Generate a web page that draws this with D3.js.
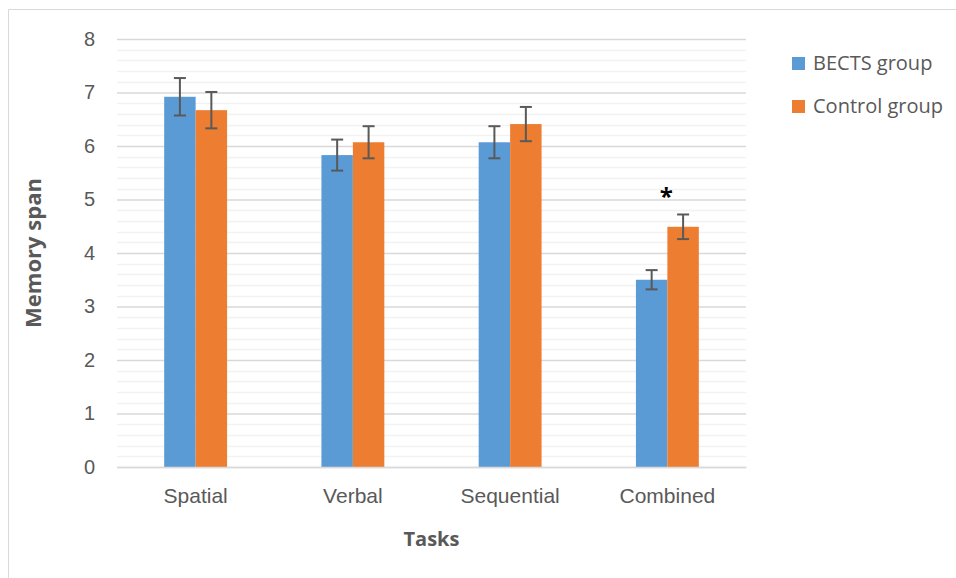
<!DOCTYPE html>
<html>
<head>
<meta charset="utf-8">
<script src="https://cdn.jsdelivr.net/npm/d3@7"></script>
<style>
  html, body { margin: 0; padding: 0; background: #fff; }
  svg { display: block; font-family: "Open Sans", "Liberation Sans", sans-serif; }
</style>
</head>
<body>
<svg id="chart" width="956" height="578"></svg>
<script>
// Memory span by task, two groups, with error bars
const tasks = ["Spatial", "Verbal", "Sequential", "Combined"];
const groups = ["BECTS group", "Control group"];
const bectsMeans = [6.92, 5.83, 6.07, 3.50];
const bectsErr = [0.35, 0.29, 0.30, 0.18];
const controlMeans = [6.67, 6.07, 6.41, 4.49];
const controlErr = [0.34, 0.30, 0.32, 0.23];
const yTicks = [0, 1, 2, 3, 4, 5, 6, 7, 8];
const significant = ["Combined"];
const colors = ["#5b9bd5", "#ed7d31"];

const svg = d3.select("#chart");
const W = 956, H = 578;
const plot = { left: 117, right: 746, top: 39, bottom: 467 };

// chart frame (top and left edges visible)
svg.append("path")
  .attr("d", `M8.5,${H} V9.5 H${W}`)
  .attr("fill", "none").attr("stroke", "#d9d9d9").attr("stroke-width", 1);

const x = d3.scaleBand().domain(tasks).range([plot.left, plot.right]).paddingInner(0).paddingOuter(0);
const y = d3.scaleLinear().domain([0, 8]).range([plot.bottom, plot.top]);
const barW = x.bandwidth() * 0.2;
const x1 = d3.scaleBand().domain(groups).range([0, barW * 2]);

// minor gridlines
const minor = d3.range(0, 8.0001, 0.2).filter(v => Math.abs(v - Math.round(v)) > 1e-6);
svg.append("g").selectAll("line").data(minor).join("line")
  .attr("x1", plot.left).attr("x2", plot.right)
  .attr("y1", d => Math.round(y(d)) + 0.5).attr("y2", d => Math.round(y(d)) + 0.5)
  .attr("stroke", "#f2f2f2").attr("stroke-width", 1.3);

// major gridlines and y labels via axis
const yAxis = d3.axisLeft(y).tickValues(yTicks).tickSize(-(plot.right - plot.left)).tickPadding(22).tickFormat(d3.format("d"));
const gy = svg.append("g").attr("transform", `translate(${plot.left},0)`).call(yAxis);
gy.select(".domain").remove();
gy.selectAll(".tick line").attr("stroke", "#d9d9d9").attr("stroke-width", 1.3);
gy.selectAll(".tick text").attr("fill", "#595959").attr("font-size", 20);

// bars
const data = tasks.map((t, i) => ({
  task: t,
  vals: [
    { g: groups[0], v: bectsMeans[i], e: bectsErr[i], c: colors[0] },
    { g: groups[1], v: controlMeans[i], e: controlErr[i], c: colors[1] }
  ]
}));
const groupOffset = (x.bandwidth() - barW * 2) / 2;
const gBars = svg.append("g").selectAll("g").data(data).join("g")
  .attr("transform", d => `translate(${x(d.task) + groupOffset},0)`);
gBars.selectAll("rect").data(d => d.vals).join("rect")
  .attr("x", d => x1(d.g)).attr("width", x1.bandwidth())
  .attr("y", d => y(d.v)).attr("height", d => y(0) - y(d.v))
  .attr("fill", d => d.c);

// error bars
const cap = 6;
const eb = gBars.selectAll("g.err").data(d => d.vals).join("g").attr("class", "err")
  .attr("stroke", "#595959").attr("stroke-width", 2);
eb.append("line")
  .attr("x1", d => x1(d.g) + x1.bandwidth() / 2).attr("x2", d => x1(d.g) + x1.bandwidth() / 2)
  .attr("y1", d => y(d.v + d.e)).attr("y2", d => y(d.v - d.e));
eb.append("line")
  .attr("x1", d => x1(d.g) + x1.bandwidth() / 2 - cap).attr("x2", d => x1(d.g) + x1.bandwidth() / 2 + cap)
  .attr("y1", d => y(d.v + d.e)).attr("y2", d => y(d.v + d.e));
eb.append("line")
  .attr("x1", d => x1(d.g) + x1.bandwidth() / 2 - cap).attr("x2", d => x1(d.g) + x1.bandwidth() / 2 + cap)
  .attr("y1", d => y(d.v - d.e)).attr("y2", d => y(d.v - d.e));

// significance marker
svg.append("g").selectAll("text").data(significant).join("text")
  .attr("x", d => x(d) + x.bandwidth() / 2 - 1)
  .attr("y", d => {
    const i = tasks.indexOf(d);
    return y(Math.max(bectsMeans[i] + bectsErr[i], controlMeans[i] + controlErr[i])) - 9;
  })
  .attr("text-anchor", "middle").attr("font-size", 24).attr("font-weight", "bold").attr("fill", "#000")
  .text("*");

// x axis
const xAxis = d3.axisBottom(x).tickSize(0).tickPadding(21);
const gx = svg.append("g").attr("transform", `translate(0,${plot.bottom})`).call(xAxis);
gx.select(".domain").attr("stroke", "#d9d9d9").attr("stroke-width", 1.3);
gx.selectAll(".tick text").attr("fill", "#595959").attr("font-size", 21);

// axis titles
svg.append("text").attr("transform", `translate(41,${(plot.top + plot.bottom) / 2}) rotate(-90)`)
  .attr("text-anchor", "middle").attr("font-size", 22).attr("font-weight", "bold").attr("fill", "#595959")
  .text("Memory span");
svg.append("text").attr("x", (plot.left + plot.right) / 2).attr("y", 546)
  .attr("text-anchor", "middle").attr("font-size", 20).attr("font-weight", "bold").attr("fill", "#595959")
  .text("Tasks");

// legend
const leg = svg.append("g").selectAll("g").data(groups).join("g")
  .attr("transform", (d, i) => `translate(792,${57 + i * 43})`);
leg.append("rect").attr("width", 13).attr("height", 13).attr("fill", (d, i) => colors[i]);
leg.append("text").attr("x", 21).attr("y", 13).attr("font-size", 20).attr("fill", "#595959").text(d => d);
</script>
</body>
</html>
